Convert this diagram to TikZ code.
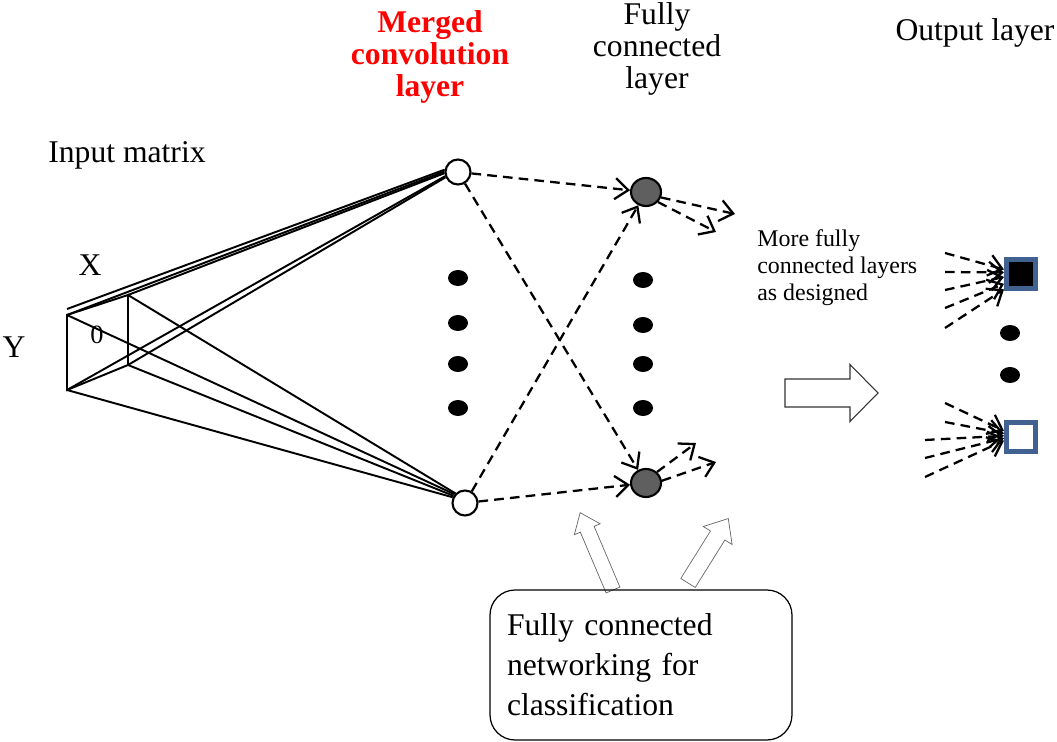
\documentclass[tikz,border=0pt]{standalone}
\usepackage{fontspec}
\setmainfont{Liberation Serif}
\usetikzlibrary{arrows.meta,positioning,shapes.geometric}
\definecolor{MergedRed}{RGB}{255,0,0}
\definecolor{FcGray}{RGB}{95,95,95}
\definecolor{OutBlue}{RGB}{65,98,145}
\tikzset{
  headtext/.style={align=center,inner sep=0pt,
    font=\fontsize{18}{18}\selectfont},
  mnode/.style={circle,draw,line width=1.2pt,fill=white,minimum size=0.5cm,
    inner sep=0pt},
  fcnode/.style={ellipse,draw,line width=1.2pt,fill=FcGray,minimum width=0.6cm,
    minimum height=0.56cm,inner sep=0pt},
  ldot/.style={ellipse,fill=black,minimum width=0.4cm,minimum height=0.32cm,
    inner sep=0pt},
  outbox/.style={draw=OutBlue,line width=2.6pt,minimum size=0.59cm,
    inner sep=0pt},
  wire/.style={line width=1.1pt},
  dasharrow/.style={line width=1.3pt,dash pattern=on 5.5pt off 3.5pt,
    -{Straight Barb[length=7.5pt,width=12pt]}},
  hollow/.style={draw=black!80,line width=0.6pt,fill=white}
}
% block arrow: options, tail, angle, length, half body, half head, head length
\newcommand{\hollowarrow}[7]{%
  \begin{scope}[shift={#2},rotate=#3]
    \draw[#1] (0,-#5) -- ({#4-#7},-#5) -- ({#4-#7},-#6) -- (#4,0)
      -- ({#4-#7},#6) -- ({#4-#7},#5) -- (0,#5) -- cycle;
  \end{scope}}

\begin{document}
\begin{tikzpicture}[x=0.02cm,y=-0.02cm]
\useasboundingbox (0,0) rectangle (1057,742);

% titles
\node[headtext,text=MergedRed,font=\bfseries\fontsize{18}{18}\selectfont]
  (tmerged) at (430,57) {Merged\\convolution\\layer};
\node[headtext] (tfc) at (657,49) {Fully\\connected\\layer};
\node[headtext] (tout) at (975,33) {Output layer};
\node[headtext] (tinput) at (127,155) {Input matrix};
\node[headtext] (tx) at (90,265) {X};
\node[headtext] (ty) at (14,347) {Y};
\node[align=left,inner sep=0pt,anchor=west,
  font=\fontsize{13.6}{15.3}\selectfont] (tmore) at (757,268)
  {More fully\\connected layers\\as designed};

% input matrix
\coordinate (inA) at (67,315);
\coordinate (inA2) at (67,309);
\coordinate (inB) at (67,390);
\coordinate (inC) at (128,295);
\coordinate (inD) at (128,365);
\draw[wire] (inA) -- (inC) -- (inD) -- (inB) -- cycle;
\node[font=\fontsize{15}{15}\selectfont,inner sep=0pt] (zero) at (97,335) {0};

% merged convolution layer
\node[mnode] (mtop) at (458,172) {};
\node[mnode] (mbot) at (465,503) {};
\foreach \i/\y in {1/278,2/323,3/364,4/408}
  \node[ldot] (md\i) at (458,\y) {};

% fully connected layer
\node[fcnode] (ftop) at (646,192) {};
\node[fcnode] (fbot) at (646,483) {};
\foreach \i/\y in {1/280,2/325,3/364,4/408}
  \node[ldot] (fd\i) at (643,\y) {};

% output layer
\node[outbox,fill=black] (otop) at (1021,274) {};
\node[outbox,fill=white] (obot) at (1021,437) {};
\node[ldot] (od1) at (1010,333) {};
\node[ldot] (od2) at (1010,375) {};

% receptive field wires
\draw[wire] (inA2) -- (mtop.170);
\draw[wire] (inA) -- (mtop.178);
\draw[wire] (inC) -- (mtop.185);
\draw[wire] (inB) -- (mtop.198);
\draw[wire] (inD) -- (mtop.203);
\draw[wire] (inA) -- (mbot.140);
\draw[wire] (inC) -- (mbot.135);
\draw[wire] (inB) -- (mbot.155);
\draw[wire] (inD) -- (mbot.148);

% full connections
\draw[dasharrow] (mtop) -- (ftop);
\draw[dasharrow] (mtop) -- (fbot);
\draw[dasharrow] (mbot) -- (ftop);
\draw[dasharrow] (mbot) -- (fbot);

\coordinate (ft1) at (735,214);
\coordinate (ft2) at (716,232);
\coordinate (fb1) at (696,443);
\coordinate (fb2) at (716,462);
\draw[dasharrow] (ftop.-20) -- (ft1);
\draw[dasharrow] (ftop.-40) -- (ft2);
\draw[dasharrow] (fbot.45) -- (fb1);
\draw[dasharrow] (fbot.8) -- (fb2);

% into the output layer
\foreach \i/\x/\y in {1/945/253,2/945/272,3/945/290,4/945/308,5/945/328}
  \coordinate (ot\i) at (\x,\y);
\foreach \i/\x/\y in {1/945/403,2/945/422,3/925/440,4/925/458,5/925/477}
  \coordinate (ob\i) at (\x,\y);
\foreach \i/\a in {1/165,2/175,3/190,4/210,5/222}
  \draw[dasharrow] (ot\i) -- (otop.\a);
\foreach \i/\a in {1/160,2/168,3/176,4/184,5/192}
  \draw[dasharrow] (ob\i) -- (obot.\a);

% block arrows
\hollowarrow{hollow}{(785,393)}{0}{93}{14}{28.5}{28}
\hollowarrow{hollow,draw=black!60,line width=0.4pt}{(613,590)}{113}{84}{7.5}{14}{18}
\hollowarrow{hollow,draw=black!60,line width=0.4pt}{(688,583)}{58}{76}{8.5}{17}{20}

% classification box
\node[draw,line width=0.7pt,rounded corners=0.5cm,minimum width=6.04cm,
  minimum height=3cm,text width=5.36cm,inner xsep=0.34cm,align=left,
  font=\fontsize{18}{22.7}\selectfont] (cls) at (641,665)
  {Fully connected\\networking for\\classification};

\end{tikzpicture}
\end{document}
